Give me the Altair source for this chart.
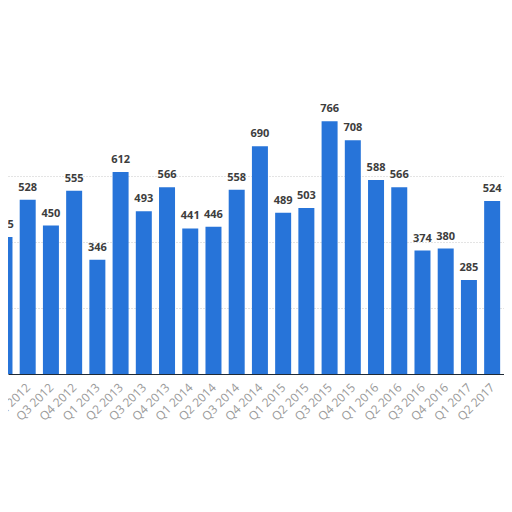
import altair as alt
import pandas as pd

quarters = [
    "Q1 2012", "Q2 2012", "Q3 2012", "Q4 2012",
    "Q1 2013", "Q2 2013", "Q3 2013", "Q4 2013",
    "Q1 2014", "Q2 2014", "Q3 2014", "Q4 2014",
    "Q1 2015", "Q2 2015", "Q3 2015", "Q4 2015",
    "Q1 2016", "Q2 2016", "Q3 2016", "Q4 2016",
    "Q1 2017", "Q2 2017",
]
values = [
    415, 528, 450, 555,
    346, 612, 493, 566,
    441, 446, 558, 690,
    489, 503, 766, 708,
    588, 566, 374, 380,
    285, 524,
]

df = pd.DataFrame({"idx": list(range(len(quarters))), "quarter": quarters, "value": values})

label_array = "[" + ",".join("'" + q + "'" for q in quarters + ["Q3 2017"]) + "]"

x_scale = alt.Scale(domain=[0.367, 21.295], nice=False, zero=False)
y_scale = alt.Scale(domain=[0, 800], nice=False)

x_axis = alt.Axis(
    values=list(range(len(quarters) + 1)),
    labelExpr=label_array + "[datum.value]",
    labelAngle=-45,
    labelAlign="right",
    labelBaseline="middle",
    labelColor="#9a9a9a",
    labelFontSize=12,
    labelFont="Open Sans",
    labelPadding=11,
    ticks=False,
    grid=False,
    domain=True,
    domainColor="#1f2a36",
    domainWidth=1,
    title=None,
    labelOverlap=False,
    labelBound=False,
    labelFlush=False,
)

y_axis = alt.Axis(
    values=[200, 400, 600],
    grid=True,
    gridColor="#c8c8c8",
    gridDash=[1, 2],
    labels=False,
    ticks=False,
    domain=False,
    title=None,
)

base = alt.Chart(df)

bars = base.mark_bar(size=16, color="#2774d9").encode(
    x=alt.X("idx:Q", scale=x_scale, axis=x_axis),
    y=alt.Y("value:Q", scale=y_scale, axis=y_axis),
)

labels = base.mark_text(
    baseline="alphabetic",
    dy=-9,
    font="Open Sans",
    fontSize=11,
    fontWeight="bold",
    color="#3d3d3d",
).encode(
    x=alt.X("idx:Q", scale=x_scale, axis=x_axis),
    y=alt.Y("value:Q", scale=y_scale, axis=y_axis),
    text=alt.Text("value:Q"),
)

chart = (bars + labels).properties(
    width=496,
    height=264,
    background="white",
    autosize=alt.AutoSizeParams(type="none"),
    padding={"top": 102, "left": 0, "right": 0, "bottom": 90},
).configure_view(stroke=None)

chart.save("out.html", embed_options={"renderer": "svg", "actions": False})
